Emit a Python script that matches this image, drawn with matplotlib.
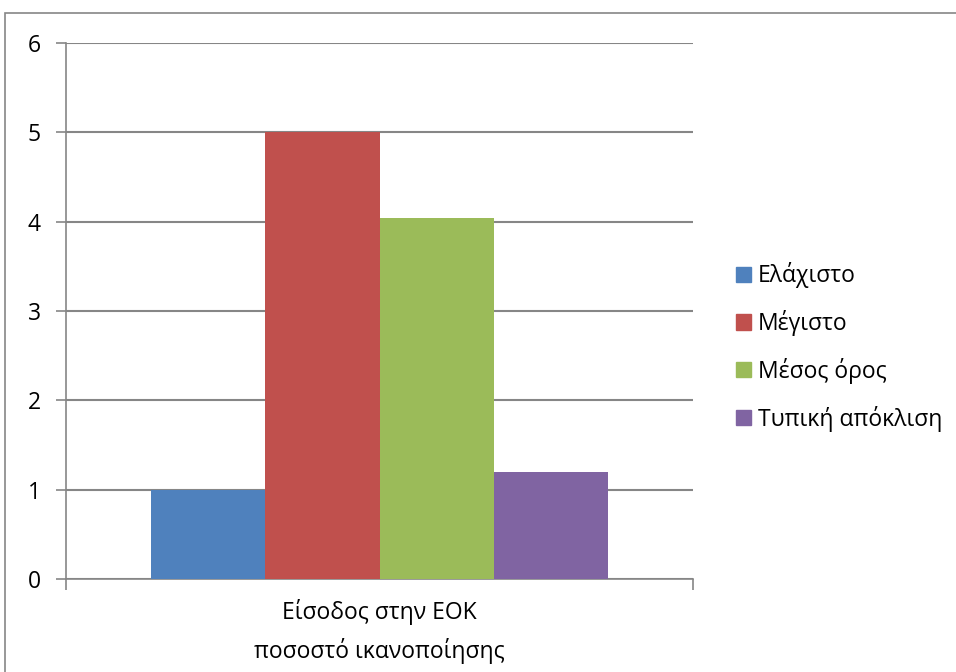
import matplotlib
matplotlib.use("Agg")
import matplotlib.pyplot as plt
from matplotlib.patches import Rectangle

plt.rcParams['font.family'] = ['Open Sans', 'DejaVu Sans']

category = "Είσοδος στην ΕΟΚ\nποσοστό ικανοποίησης"
series = ["Ελάχιστο", "Μέγιστο", "Μέσος όρος", "Τυπική απόκλιση"]
values = [1, 5, 4.04, 1.2]
colors = ["#4F81BD", "#C0504D", "#9BBB59", "#8064A2"]

W, H = 956, 672
fig = plt.figure(figsize=(W / 100, H / 100), dpi=100)
ax = fig.add_axes([66 / W, 1 - 579 / H, (693 - 66) / W, (579 - 43) / H])

# outer chart frame (runs off right and bottom edge like the screenshot)
fig.patches.append(Rectangle((5 / W, -0.1), 1.2, 1 - 13 / H + 0.1, transform=fig.transFigure,
                             fill=False, edgecolor="#868686", linewidth=1.2))

grp = 457 / 627
bw = grp / len(values)
start = -grp / 2 + bw / 2
for i, (v, c) in enumerate(zip(values, colors)):
    ax.bar(start + i * bw, v, width=bw, color=c, zorder=3, label=series[i])

ax.set_xlim(-0.5, 0.5)
ax.set_ylim(0, 6)
ax.set_yticks(range(0, 7))
ax.yaxis.grid(True, color="#868686", linewidth=1.5, zorder=0)
ax.set_axisbelow(True)
for s in ["top", "right"]:
    ax.spines[s].set_visible(False)
for s in ["left", "bottom"]:
    ax.spines[s].set_color("#868686")
    ax.spines[s].set_linewidth(1.2)

ax.set_xticks([-0.5, 0.5])
ax.set_xticklabels(["", ""])
ax.tick_params(axis="x", length=8, color="#868686", width=1.2)
ax.tick_params(axis="y", length=7, color="#868686", width=1.2, labelsize=16.5, pad=11)
ax.annotate(category, xy=(0, 0), xycoords=("data", "axes fraction"),
            xytext=(0, -37.5), textcoords="offset points",
            ha="center", va="center", fontsize=16.5, linespacing=1.65)

handles = [Rectangle((0, 0), 1, 1, color=c) for c in colors]
fig.legend(handles, series, loc="center left", bbox_to_anchor=(736 / W, 1 - 347 / H),
           frameon=False, fontsize=16.5, handlelength=0.65, handleheight=0.65,
           handletextpad=0.3, labelspacing=0.95, borderpad=0, borderaxespad=0)

fig.savefig("out.png", dpi=100)
